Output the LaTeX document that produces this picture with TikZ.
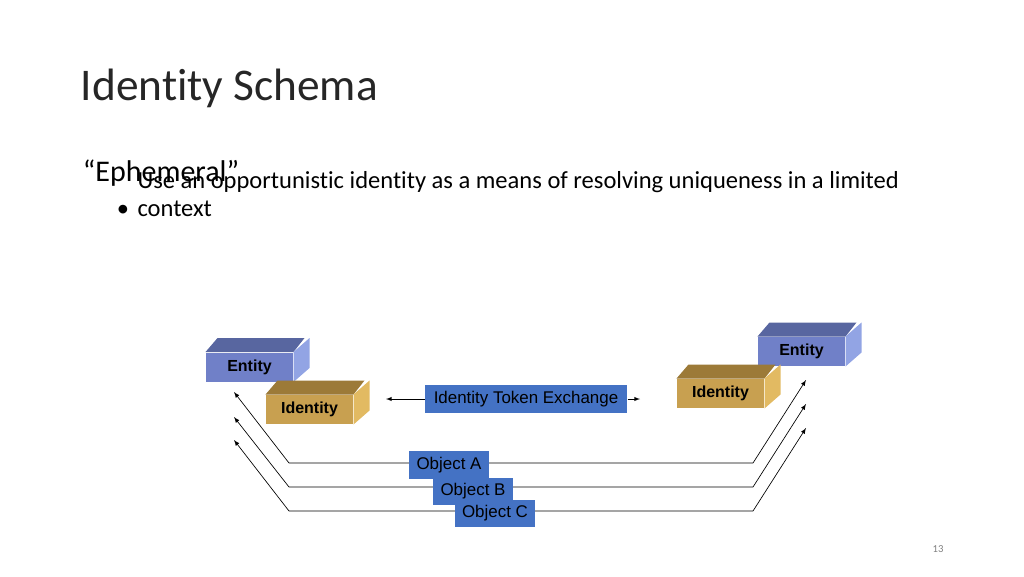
\documentclass[tikz,border=0pt]{standalone}
\usepackage{fontspec}
\setmainfont[Ligatures=NoCommon]{Carlito}
\newfontfamily\boxfont{Liberation Sans}
\definecolor{entfront}{RGB}{112,128,200}
\definecolor{enttop}{RGB}{88,102,160}
\definecolor{entside}{RGB}{146,164,228}
\definecolor{idfront}{RGB}{200,160,80}
\definecolor{idtop}{RGB}{156,122,56}
\definecolor{idside}{RGB}{226,186,98}
\definecolor{objblue}{RGB}{68,114,196}
\tikzset{every picture/.style={line width=0.75pt}}
\begin{document}
\begin{tikzpicture}[x=0.75pt,y=0.75pt,yscale=-1,xscale=1,
  block/.style={minimum width=65.25pt,minimum height=21.75pt,inner sep=0pt,font=\boxfont\bfseries\fontsize{12}{14}\selectfont},
  entity/.style={block,fill=entfront},
  ident/.style={block,fill=idfront},
  objbox/.style={fill=objblue,inner sep=0pt,minimum width=60pt,minimum height=20.5pt,font=\boxfont\fontsize{12.7}{14}\selectfont},
  link/.style={line width=0.5pt,-latex}]
\useasboundingbox (0,0) rectangle (1024,576);

% Title and bullet text
\node [anchor=base west,font=\fontsize{34}{40}\selectfont,color=black!85] (title) at (76,100) {Identity Schema};
\node [anchor=base west,font=\fontsize{22.5}{26}\selectfont] (sub) at (78,181) {“Ephemeral”};
\node [anchor=base west,font=\fontsize{18.4}{22}\selectfont] (bul) at (112,216) {•};
\node [anchor=base west,font=\fontsize{18.4}{21}\selectfont,align=left,inner sep=0pt] (bultext) at (137,216) {Use an opportunistic identity as a means of resolving uniqueness in a limited\\context};
\node [font=\fontsize{8}{10}\selectfont,color=black!50] (page) at (938,549) {13};

% Lines behind object boxes
\draw [link] (753,463) -- (806,380);
\draw [link] (753,487) -- (806,404);
\draw [link] (753,511) -- (806,428);
\draw [link] (753,463) -- (289,463) -- (234,392);
\draw [link] (753,487) -- (289,487) -- (234,417);
\draw [link] (753,511) -- (289,511) -- (234,440);

% Object boxes
\node [objbox] (objA) at (449,465) {Object A};
\node [objbox] (objB) at (473,491.5) {Object B};
\node [objbox] (objC) at (495,513.5) {Object C};

% Blocks
\node [entity] (entL) at (249.5,367) {Entity};
\node [ident] (idL) at (309.5,409.5) {Identity};
\node [ident] (idR) at (720.5,393.5) {Identity};
\node [entity] (entR) at (801.5,351.5) {Entity};
\foreach \n/\c in {entL/ent,idL/id,idR/id,entR/ent}{
  \fill [\c top] (\n.north west) -- ++(12,-14) -- ++(87,0) -- (\n.north east) -- cycle;
  \fill [\c side] (\n.north east) -- ++(16,-14) -- ++(0,30) -- (\n.south east) -- cycle;
}

% Token exchange
\node [fill=objblue,minimum width=151.5pt,minimum height=21pt,inner sep=0pt,font=\boxfont\fontsize{12.7}{14}\selectfont] (token) at (526,399) {Identity Token Exchange};
\coordinate (tokL) at (386,399);
\coordinate (tokR) at (640,399);
\draw [link] (token.west) -- (tokL);
\draw [link] (token.east) -- (tokR);
\end{tikzpicture}
\end{document}
